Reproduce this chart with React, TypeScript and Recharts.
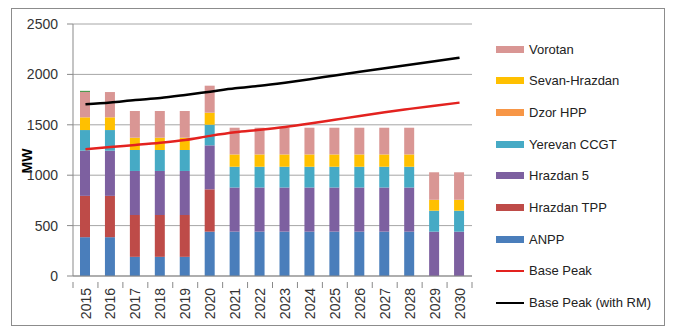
import React from 'react';
import { ComposedChart, Bar, Line, XAxis, YAxis, CartesianGrid } from 'recharts';

const years = ['2015','2016','2017','2018','2019','2020','2021','2022','2023','2024','2025','2026','2027','2028','2029','2030'];
const anpp = [385,385,190,190,190,440,440,440,440,440,440,440,440,440,0,0];
const hrazdanTpp = [410,410,415,415,415,420,0,0,0,0,0,0,0,0,0,0];
const hrazdan5 = [448,448,437,437,437,436,438,438,438,438,438,438,438,438,440,440];
const yerevanCcgt = [205,205,208,208,208,205,206,206,206,206,206,206,206,206,208,208];
const dzorHpp = [0,0,0,0,0,0,0,0,0,0,0,0,0,0,0,0];
const sevanHrazdan = [126,126,122,122,122,119,122,122,122,122,122,122,122,122,108,108];
const vorotan = [251,251,265,265,265,268,265,265,265,265,265,265,265,265,273,273];
const otherCap = [12,0,0,0,0,0,0,0,0,0,0,0,0,0,0,0];
const basePeak = [1257,1280,1300,1322,1350,1390,1425,1450,1478,1512,1550,1588,1625,1658,1690,1720];
const basePeakRm = [1703,1722,1746,1766,1796,1829,1862,1887,1918,1952,1990,2026,2060,2096,2130,2166];
const yTicks = [0,500,1000,1500,2000,2500];

const data = years.map((y, i) => ({
  year: y,
  anpp: anpp[i],
  hrazdanTpp: hrazdanTpp[i],
  hrazdan5: hrazdan5[i],
  yerevanCcgt: yerevanCcgt[i],
  dzorHpp: dzorHpp[i],
  sevanHrazdan: sevanHrazdan[i],
  vorotan: vorotan[i],
  otherCap: otherCap[i],
  basePeak: basePeak[i],
  basePeakRm: basePeakRm[i],
}));

const bars = [
  { key: 'anpp', name: 'ANPP', color: '#4a7ebb' },
  { key: 'hrazdanTpp', name: 'Hrazdan TPP', color: '#be4b48' },
  { key: 'hrazdan5', name: 'Hrazdan 5', color: '#7d60a0' },
  { key: 'yerevanCcgt', name: 'Yerevan CCGT', color: '#46aac5' },
  { key: 'dzorHpp', name: 'Dzor HPP', color: '#f79646' },
  { key: 'sevanHrazdan', name: 'Sevan-Hrazdan', color: '#ffc000' },
  { key: 'vorotan', name: 'Vorotan', color: '#d99694' },
];
const lines = [
  { key: 'basePeak', name: 'Base Peak', color: '#e3221f' },
  { key: 'basePeakRm', name: 'Base Peak (with RM)', color: '#000000' },
];

const W = 676, H = 331;
const M = { top: 24, right: 204, left: 0, bottom: 0 };
const YW = 73;
const XH = 55;
const plotW = W - M.right - YW;
const band = plotW / years.length;
const FONT = '"Liberation Sans", Arial, sans-serif';

const XTick = (props: any) => {
  const { x, y, payload, index } = props;
  const ty = y + 4;
  return (
    <g>
      <line x1={x - band / 2} y1={y - 2} x2={x - band / 2} y2={y + 4} stroke="#898989" />
      {index === years.length - 1 && (
        <line x1={x + band / 2} y1={y - 2} x2={x + band / 2} y2={y + 4} stroke="#898989" />
      )}
      <text x={x} y={ty} transform={`rotate(-90 ${x} ${ty})`} textAnchor="end" dy="0.36em"
        fontSize={14} fill="#333" fontFamily={FONT}>{payload.value}</text>
    </g>
  );
};

const legendItems = [
  ...bars.slice().reverse().map(b => ({ name: b.name, color: b.color, line: false })),
  ...lines.map(l => ({ name: l.name, color: l.color, line: true })),
];

export default function App() {
  return (
    <div style={{ position: 'absolute', left: 0, top: 0, width: W, height: H, background: '#fff', fontFamily: FONT }}>
      <div style={{ position: 'absolute', left: 11, top: 8, width: 652, height: 316, border: '1px solid #8c8c8c' }} />
      <div style={{ position: 'absolute', left: 0, top: 0 }}>
        <ComposedChart width={W} height={H} data={data} margin={M} barSize={10}>
          <CartesianGrid vertical={false} stroke="#a6a6a6" />
          <XAxis dataKey="year" height={XH} stroke="#898989" tickLine={false} tick={<XTick />} interval={0} />
          <YAxis width={YW} domain={[0, 2500]} ticks={yTicks} stroke="#898989" tickSize={6} tickMargin={9}
            tick={{ fontSize: 14, fill: '#333', fontFamily: FONT }}
            label={{ content: () => (
              <text x={27} y={161} transform="rotate(-90 27 161)" textAnchor="middle" dominantBaseline="central"
                fontSize={14} fontWeight="bold" fill="#000" fontFamily={FONT}>MW</text>
            ) }} />
          {bars.map(b => (
            <Bar key={b.key} dataKey={b.key} name={b.name} stackId="s" fill={b.color} isAnimationActive={false} />
          ))}
          <Bar dataKey="otherCap" stackId="s" fill="#4f9a4f" isAnimationActive={false} legendType="none" />
          {lines.map(l => (
            <Line key={l.key} dataKey={l.key} name={l.name} type="monotone" stroke={l.color} strokeWidth={2.5}
              dot={false} isAnimationActive={false} />
          ))}
        </ComposedChart>
      </div>
      <div style={{ position: 'absolute', left: 496, top: 39 }}>
        {legendItems.map((it, i) => (
          <div key={it.name} style={{ position: 'absolute', left: 0, top: i * 31.7, height: 20, width: 170, display: 'flex', alignItems: 'center' }}>
            <div style={{ width: 28, height: it.line ? 2 : 7, background: it.color }} />
            <span style={{ marginLeft: 5, fontSize: 13, color: '#222', whiteSpace: 'nowrap' }}>{it.name}</span>
          </div>
        ))}
      </div>
    </div>
  );
}
